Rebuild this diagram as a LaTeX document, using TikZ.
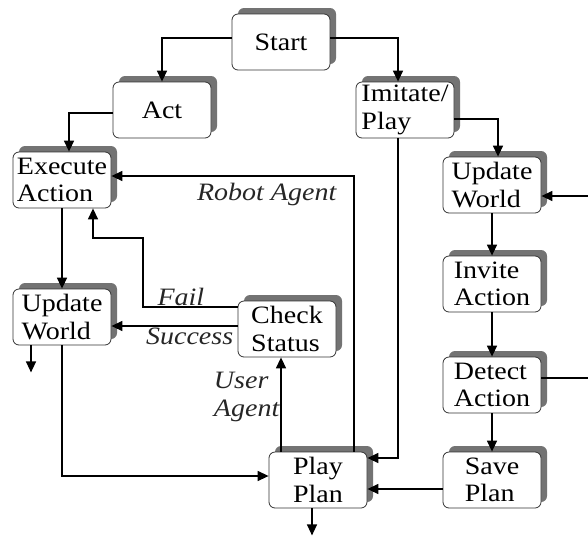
\documentclass[tikz,border=0pt]{standalone}
\usepackage{fontspec}
\setmainfont{Liberation Serif}[FakeStretch=1.12]
\usetikzlibrary{arrows.meta,shadows}

\begin{document}
\begin{tikzpicture}[
  x=1pt, y=-1pt,
  box/.style={draw=black!80, line width=0.8pt, fill=white, rounded corners=6pt,
    minimum width=98pt, minimum height=56pt, inner sep=1pt, align=left,
    font=\fontsize{25}{27.5}\selectfont,
    drop shadow={shadow xshift=6pt, shadow yshift=6pt, fill=black!55, opacity=1}},
  arr/.style={-{Triangle[length=11pt,width=10pt]}, line width=1.4pt},
  lbl/.style={font=\fontsize{25}{27.5}\selectfont\itshape, text=black!85, inner sep=1pt, align=left}
]
\useasboundingbox (0,0) rectangle (588,538);

\node[box] (start) at (281,42) {Start};
\node[box] (act) at (162,110) {Act};
\node[box] (exec) at (62,180) {Execute\\Action};
\node[box] (imit) at (405,110) {Imitate/\\Play};
\node[box] (updR) at (492,185) {Update\\World};
\node[box] (invite) at (492,284) {Invite\\Action};
\node[box] (detect) at (492,385) {Detect\\Action};
\node[box] (save) at (492,480) {Save\\Plan};
\node[box] (play) at (318,480) {Play\\Plan};
\node[box] (check) at (287,329) {Check\\Status};
\node[box] (updL) at (62,317) {Update\\World};

\coordinate (failbend) at (143,238);
\coordinate (loopout) at (588,378);
\coordinate (loopin) at (588,196);

\draw[arr] ([yshift=4pt]start.west) -| (act.north);
\draw[arr] ([yshift=4pt]start.east) -| ([xshift=-7pt]imit.north);
\draw[arr] ([yshift=-3pt]act.west) -| ([xshift=7pt]exec.north);
\draw[arr] ([yshift=-9pt]imit.east) -| ([xshift=6pt]updR.north);
\draw[arr] ([xshift=-7pt]imit.south) |- ([yshift=22pt]play.east);
\draw[arr] ([xshift=36pt]play.north) |- ([yshift=4pt]exec.east)
  node[lbl, pos=0.68, below=5pt] {Robot Agent};
\draw[arr] (exec.south) -- (exec.south |- updL.north);
\draw[arr] ([yshift=22pt]check.west) -| (failbend)
  node[lbl, pos=0.3, above] {Fail}
  -| ([xshift=31pt]exec.south);
\draw[arr] ([yshift=3pt]check.west) -- ([yshift=3pt]check.west -| updL.east)
  node[lbl, pos=0.38, below] {Success};
\draw[arr] ([xshift=-37pt]play.north) -- ([xshift=-37pt]play.north |- check.south)
  node[lbl, pos=0.58, left] {User\\Agent};
\draw[arr] ([xshift=-31pt]updL.south) -- ++(0,27);
\draw[arr] (updL.south) |- ([yshift=4pt]play.west);
\draw[arr] (updR) -- (invite);
\draw[arr] (invite) -- (detect);
\draw[arr] (detect) -- (save);
\draw[line width=1.4pt] ([yshift=7pt]detect.east) -- (loopout);
\draw[arr] (loopin) -- (loopin -| updR.east);
\draw[arr] ([yshift=-9pt]save.west) -- ([yshift=-9pt]save.west -| play.east);
\draw[arr] ([xshift=-6pt]play.south) -- ++(0,27);
\end{tikzpicture}
\end{document}
